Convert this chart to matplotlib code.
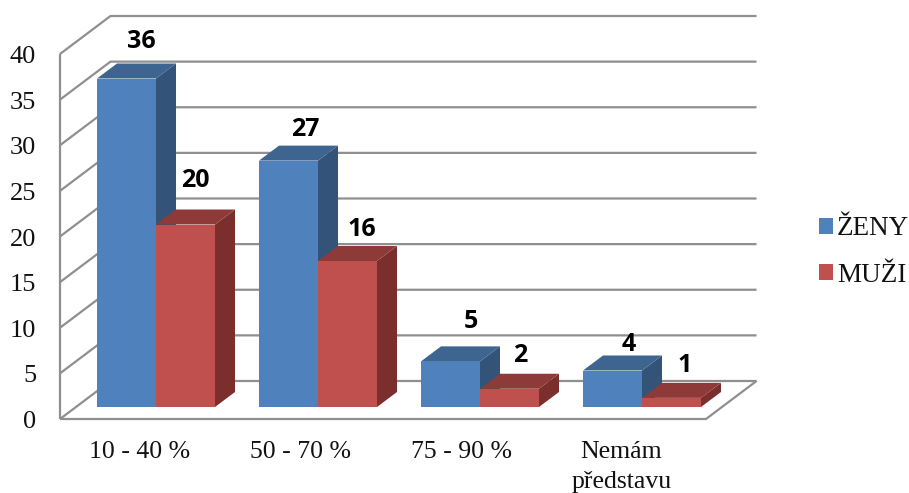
import matplotlib
matplotlib.use("Agg")
import matplotlib.pyplot as plt
from matplotlib.patches import Polygon, Patch

categories = ["10 - 40 %", "50 - 70 %", "75 - 90 %", "Nemám\npředstavu"]
series_names = ["ŽENY", "MUŽI"]
zeny = [36, 27, 5, 4]
muzi = [20, 16, 2, 1]
y_ticks = [0, 5, 10, 15, 20, 25, 30, 35, 40]

# Face colours per series: front, top, side
blue = ("#4f81bd", "#3e6490", "#345379")
red = ("#c0504d", "#8e3a38", "#7a2f2d")
grid_color = "#8f8f8f"

# Data label offsets from the top-centre of each bar, in pixels
zeny_label_offsets = [(15, 37), (17, 31), (20, 40), (16, 26)]
muzi_label_offsets = [(10, 44), (14, 31), (11, 33), (13, 32)]

W, H = 909, 493
PX_X = 162.0    # pixels per category
PX_Y = 9.125    # pixels per value unit
ORIGIN_X, ORIGIN_Y = 156.0, 419.0

fig = plt.figure(figsize=(W / 100, H / 100), dpi=100)
ax = fig.add_axes([0, 0, 1, 1])
ax.set_xlim(-ORIGIN_X / PX_X, (W - ORIGIN_X) / PX_X)
ax.set_ylim((ORIGIN_Y - H) / PX_Y, ORIGIN_Y / PX_Y)
ax.axis("off")

serif = "Liberation Serif"
label_font = "Open Sans"

# Oblique projection depth, in axis units
wall_dx, wall_dy = 50.5 / PX_X, 38 / PX_Y
bar_dx, bar_dy = 20 / PX_X, 15 / PX_Y
bar_w = 59 / PX_X
bar_base = 12 / PX_Y
x_left = -96 / PX_X
x_right = 550 / PX_X

line_kw = dict(color=grid_color, lw=1.6, solid_capstyle="butt", zorder=1)

# Back wall gridlines and their continuation along the left wall
for t in y_ticks:
    ax.plot([x_left, x_left + wall_dx, x_right + wall_dx],
            [t, t + wall_dy, t + wall_dy], **line_kw)

# Left wall edge and floor outline
ax.plot([x_left, x_left], [0, y_ticks[-1]], **line_kw)
ax.plot([x_left, x_right, x_right + wall_dx], [0, 0, wall_dy], **line_kw)


def draw_bar(x0, value, colors, z):
    x1 = x0 + bar_w
    y0 = bar_base
    y1 = bar_base + value
    ax.add_patch(Polygon([(x0, y0), (x1, y0), (x1, y1), (x0, y1)],
                         fc=colors[0], ec="none", zorder=z + 0.2))
    ax.add_patch(Polygon([(x0, y1), (x1, y1), (x1 + bar_dx, y1 + bar_dy), (x0 + bar_dx, y1 + bar_dy)],
                         fc=colors[1], ec="none", zorder=z + 0.1))
    ax.add_patch(Polygon([(x1, y0), (x1 + bar_dx, y0 + bar_dy), (x1 + bar_dx, y1 + bar_dy), (x1, y1)],
                         fc=colors[2], ec="none", zorder=z))


def value_label(x0, value, offset):
    ax.annotate(str(value), (x0 + bar_w / 2, bar_base + value),
                xytext=offset, textcoords="offset pixels",
                ha="center", va="center", fontsize=18, fontweight="bold",
                family=label_font, color="black", zorder=20)


for i, (a, b) in enumerate(zip(zeny, muzi)):
    draw_bar(i - bar_w, a, blue, 3 + 2 * i)
    draw_bar(i, b, red, 4 + 2 * i)
    value_label(i - bar_w, a, zeny_label_offsets[i])
    value_label(i, b, muzi_label_offsets[i])

# Value axis labels
for t in y_ticks:
    ax.annotate(str(t), (x_left, t), xytext=(-24, -3), textcoords="offset pixels",
                ha="right", va="center", fontsize=19, family=serif, color="#111111")

# Category labels sit on a slightly tighter pitch than the bars
LABEL_PITCH = 160.5 / PX_X
for i, c in enumerate(categories):
    ax.text(i * LABEL_PITCH - 16 / PX_X, -21.5 / PX_Y, c, ha="center", va="top",
            fontsize=18.5, family=serif, color="#111111", linespacing=1.5)

handles = [Patch(fc=blue[0], ec="none"), Patch(fc=red[0], ec="none")]
fig.legend(handles, series_names, loc="upper left",
           bbox_to_anchor=(819 / W, 1 - 216.5 / H), frameon=False,
           prop={"family": serif, "size": 19.5}, labelcolor="#111111",
           handlelength=0.52, handleheight=0.52, handletextpad=0.14,
           labelspacing=0.78, borderpad=0, borderaxespad=0)

fig.savefig("out.png", dpi=100)
